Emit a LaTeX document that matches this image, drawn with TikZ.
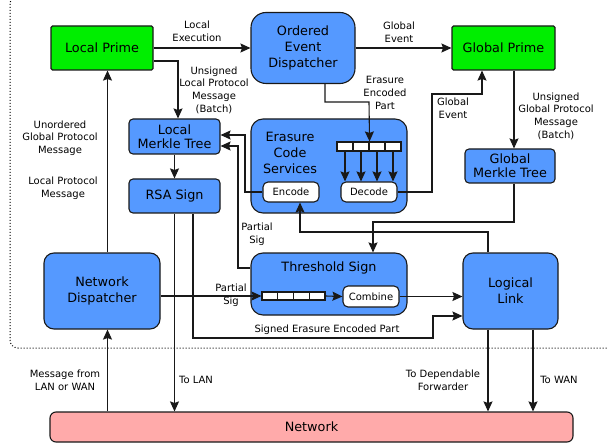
\documentclass[tikz,border=0pt]{standalone}
\usepackage{fontspec}
\setmainfont{DejaVu Sans}
\usetikzlibrary{arrows.meta}
\definecolor{boxblue}{RGB}{85,153,255}
\definecolor{primegreen}{RGB}{0,238,0}
\definecolor{netpink}{RGB}{255,170,170}
\begin{document}
\begin{tikzpicture}[x=1pt,y=-1pt,
  bigtext/.style={font=\fontsize{12.8}{15.8}\selectfont, align=center},
  lbl/.style={font=\fontsize{10}{12.6}\selectfont, align=center, inner sep=0pt},
  bluebox/.style={draw=black!90, line width=1.1pt, fill=boxblue, rounded corners=#1, inner sep=0pt, bigtext},
  bluebox/.default=4pt,
  greenbox/.style={draw=black!90, line width=1.1pt, fill=primegreen, rounded corners=1.5pt, inner sep=0pt, bigtext},
  whitebox/.style={draw=black!90, line width=1.1pt, fill=white, rounded corners=5pt, inner sep=0pt, minimum width=56pt, minimum height=20pt, font=\fontsize{10}{12}\selectfont},
  cellbox/.style={draw=black!90, line width=1.1pt, fill=white, inner sep=0pt},
  arr/.style={-{Stealth[length=10pt,width=9pt,inset=1.5pt]}, line width=1.1pt, draw=black!90},
]
\useasboundingbox (0,0) rectangle (607,446);
\begin{scope}
\clip (0,0) rectangle (607,446);
\draw[line width=1pt, dash pattern=on 1pt off 2pt, rounded corners=8pt] (10,-4) rectangle (640,348);
\end{scope}

% nodes
\node[greenbox, minimum width=102pt, minimum height=44pt] (lp) at (102,48) {Local Prime};
\node[bluebox=15pt, minimum width=104pt, minimum height=71pt] (oed) at (303,48) {Ordered\\Event\\Dispatcher};
\node[greenbox, minimum width=103pt, minimum height=44pt] (gp) at (503.5,48) {Global Prime};
\node[bluebox, minimum width=91pt, minimum height=35pt] (lmt) at (174.5,136.5) {Local\\[-2pt]Merkle Tree};
\node[bluebox, minimum width=91pt, minimum height=34pt] (rsa) at (174.5,196) {RSA Sign};
\node[bluebox=12pt, minimum width=156pt, minimum height=94pt] (ecs) at (329,166) {};
\node[bigtext, inner sep=0pt] (ecslabel) at (290,153) {Erasure\\Code\\Services};
\node[whitebox] (enc) at (291,192) {Encode};
\node[whitebox] (dec) at (369,192) {Decode};
\node[cellbox, minimum width=16pt, minimum height=9pt] (c1) at (345,146.5) {};
\node[cellbox, minimum width=16pt, minimum height=9pt] (c2) at (361,146.5) {};
\node[cellbox, minimum width=16pt, minimum height=9pt] (c3) at (377,146.5) {};
\node[cellbox, minimum width=16pt, minimum height=9pt] (c4) at (393,146.5) {};
\node[bluebox, minimum width=90pt, minimum height=34pt] (gmt) at (510,166) {Global\\[-2pt]Merkle Tree};
\node[bluebox=10pt, minimum width=116pt, minimum height=76pt] (nd) at (102,291) {Network\\Dispatcher};
\node[bluebox=12pt, minimum width=156pt, minimum height=62pt] (ts) at (329,284) {};
\node[bigtext, inner sep=0pt] (tslabel) at (329,268) {Threshold Sign};
\node[cellbox, minimum width=15.75pt, minimum height=8pt] (t1) at (269.9,296) {};
\node[cellbox, minimum width=15.75pt, minimum height=8pt] (t2) at (285.6,296) {};
\node[cellbox, minimum width=15.75pt, minimum height=8pt] (t3) at (301.4,296) {};
\node[cellbox, minimum width=15.75pt, minimum height=8pt] (t4) at (317.1,296) {};
\node[whitebox, minimum height=21pt] (comb) at (371,296.5) {Combine};
\node[bluebox=10pt, minimum width=95pt, minimum height=76pt] (ll) at (510.5,291) {Logical\\Link};
\node[draw=black!90, line width=1.1pt, fill=netpink, rounded corners=6pt, minimum width=523pt, minimum height=30pt, inner sep=0pt, bigtext] (net) at (311.5,427) {Network};

% connectors
\draw[arr] (lp.east) -- (oed.west);
\draw[arr] (oed.east) -- (gp.west);
\draw[arr] ([yshift=-13pt]lp.east) -| ([xshift=3.5pt]lmt.north);
\draw[arr] ([xshift=10.5pt]gp.south) -- ([xshift=10.5pt]gp.south |- gmt.north);
\draw[arr] (dec.east) -| (432,94) -| ([xshift=-21.5pt]gp.south);
\draw[arr] (lmt.south) -- (rsa.north);
\draw[arr] (enc.west) -| (245,135) -- ([yshift=1.5pt]lmt.east);
\draw[arr] ([yshift=16pt]ts.west) -| (238,146) -- ([yshift=-9.5pt]lmt.east);
\draw[arr] ([xshift=5.5pt]nd.north) -- ([xshift=5.5pt]lp.south);
\draw[arr] ([xshift=5.5pt]nd.south |- net.north) -- ([xshift=5.5pt]nd.south);
\draw[arr] (rsa.south) -- (rsa.south |- net.north);
\draw[arr] ([xshift=18.5pt]rsa.south) |- (433,338) |- ([yshift=-25pt]ll.west);
\draw[arr] ([yshift=-5pt]nd.east) -- (t1.west);
\draw[arr] (t4.east) -- (comb.west);
\draw[arr] (comb.east) -- (comb.east -| ll.west);
\draw[arr] ([xshift=4pt]gmt.south) |- (373,222) -- ([xshift=44pt]ts.north);
\draw[arr] ([xshift=-22.5pt]ll.north) |- (300,232) -- ([xshift=9pt]enc.south);
\draw[arr] ([xshift=-22.5pt]ll.south) -- ([xshift=-22.5pt]ll.south |- net.north);
\draw[arr] ([xshift=22.5pt]ll.south) -- ([xshift=22.5pt]ll.south |- net.north);
\draw[arr] ([xshift=22pt]oed.south) |- (369,102) -- (c2.north east);
\foreach \c in {c1,c2,c3,c4} {\draw[arr] (\c.south) -- (\c.south |- dec.north);}

% labels
\node[lbl] (l1) at (197,31.5) {Local\\Execution};
\node[lbl] (l2) at (399,32) {Global\\Event};
\node[lbl] (l3) at (214,90) {Unsigned\\Local Protocol\\Message\\(Batch)};
\node[lbl] (l4) at (556,116) {Unsigned\\Global Protocol\\Message\\(Batch)};
\node[lbl] (l5) at (453,108.5) {Global\\Event};
\node[lbl] (l6) at (385,93) {Erasure\\Encoded\\Part};
\node[lbl] (l7) at (60,138) {Unordered\\Global Protocol\\Message};
\node[lbl] (l8) at (63,188.5) {Local Protocol\\Message};
\node[lbl] (l9) at (257,234.5) {Partial\\Sig};
\node[lbl] (l10) at (231,295) {Partial\\Sig};
\node[lbl] (l11) at (327,330) {Signed Erasure Encoded Part};
\node[lbl] (l12) at (65,380) {Message from\\LAN or WAN};
\node[lbl] (l13) at (196,380) {To LAN};
\node[lbl] (l14) at (443,380) {To Dependable\\Forwarder};
\node[lbl] (l15) at (559,380) {To WAN};
\end{tikzpicture}
\end{document}
